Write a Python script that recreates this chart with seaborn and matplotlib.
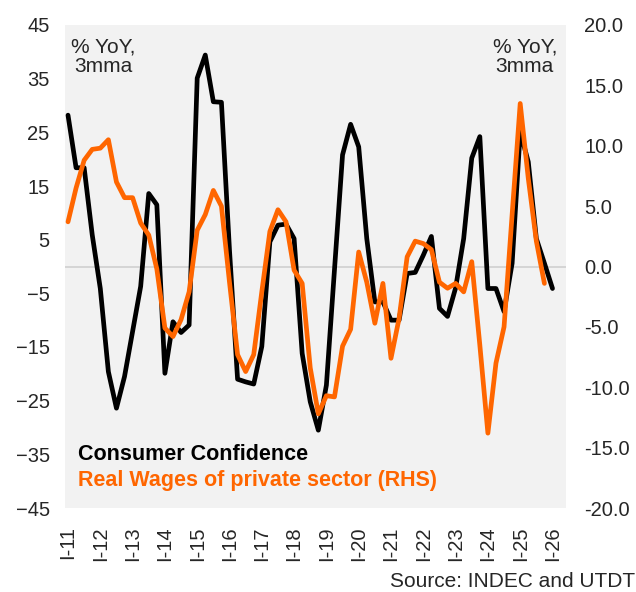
import numpy as np
import pandas as pd
import matplotlib
matplotlib.use("Agg")
import matplotlib.pyplot as plt
import seaborn as sns

# Quarterly data, 2011Q1 onwards
consumer_confidence = [
    28.2, 18.4, 18.4, 5.9, -4.1, -19.6, -26.4, -20.5, -12.1, -3.7, 13.6, 11.5,
    -19.9, -10.3, -12.3, -10.9, 35.1, 39.4, 30.7, 30.6, 3.0, -21.0, -21.5, -21.9,
    -14.9, 4.6, 7.7, 7.9, 5.2, -16.2, -25.2, -30.5, -22.1, -0.6, 20.8, 26.5,
    22.3, 5.2, -6.6, -6.6, -10.0, -10.0, -1.3, -1.1, 2.1, 5.6, -7.8, -9.3,
    -4.0, 5.2, 20.2, 24.2, -4.1, -4.1, -8.4, 0.6, 25.1, 19.5, 5.2, 0.6, -4.1,
]
real_wages = [
    3.7, 6.5, 8.8, 9.7, 9.8, 10.5, 7.0, 5.7, 5.7, 3.6, 2.6, -0.2,
    -5.1, -5.8, -4.4, -2.1, 3.0, 4.3, 6.3, 5.0, -1.3, -7.3, -8.7, -7.3,
    -2.1, 2.9, 4.7, 3.7, -0.3, -1.4, -8.4, -12.2, -10.7, -10.8, -6.6, -5.2,
    1.2, -1.3, -4.7, -1.4, -7.6, -4.3, 0.8, 2.1, 1.9, 1.4, -1.3, -1.8,
    -1.4, -2.1, 0.4, -6.5, -13.8, -8.0, -5.0, 4.3, 13.5, 7.3, 2.1, -1.4,
]
tick_years = list(range(2011, 2027))
tick_labels = [f"I-{y % 100:02d}" for y in tick_years]

t_cc = [2011 + i / 4 for i in range(len(consumer_confidence))]
t_rw = [2011 + i / 4 for i in range(len(real_wages))]
df_cc = pd.DataFrame({"t": t_cc, "v": consumer_confidence})
df_rw = pd.DataFrame({"t": t_rw, "v": real_wages})

sns.set_style("white")
plt.rcParams["font.family"] = ["Liberation Sans", "DejaVu Sans"]

fig = plt.figure(figsize=(6.36, 5.92), dpi=100)
ax = fig.add_axes([65 / 636, 1 - 508 / 592, (566 - 65) / 636, (508 - 25) / 592])
ax.set_facecolor("#F2F2F2")
ax.axhline(0, color="#D0D0D0", lw=1.2, zorder=1)

sns.lineplot(data=df_cc, x="t", y="v", ax=ax, color="black", lw=3.4, zorder=3)
ax2 = ax.twinx()
sns.lineplot(data=df_rw, x="t", y="v", ax=ax2, color="#FF6600", lw=3.4, zorder=3)

ax.set_xlim(2011 - 3 / 32.3, 2011 + (566 - 68) / 32.3)
ax.set_ylim(-45, 45)
ax2.set_ylim(-20, 20)
ax.set_yticks(range(-45, 46, 10))
ax2.set_yticks(np.arange(-20, 20.1, 5))
ax2.set_yticklabels([f"{v:.1f}" for v in np.arange(-20, 20.1, 5)])
ax.set_xticks(tick_years)
ax.set_xticklabels(tick_labels, rotation=90)
for a in (ax, ax2):
    a.set_xlabel("")
    a.set_ylabel("")
    for s in a.spines.values():
        s.set_visible(False)
ax.tick_params(axis="y", length=0, labelsize=14.5, pad=11)
ax2.tick_params(axis="y", length=0, labelsize=14.5, pad=13)
ax.tick_params(axis="x", length=0, labelsize=14.5, pad=13)

ax.text(0.012, 0.975, "% YoY,\n3mma", transform=ax.transAxes, ha="left", va="top",
        fontsize=15, linespacing=1.05, multialignment="center")
ax.text(0.982, 0.975, "% YoY,\n3mma", transform=ax.transAxes, ha="right", va="top",
        fontsize=15, linespacing=1.05, multialignment="center")
ax.text(0.026, 0.11, "Consumer Confidence", transform=ax.transAxes, ha="left",
        va="center", fontsize=15.5, fontweight="bold", color="black")
ax.text(0.026, 0.056, "Real Wages of private sector (RHS)", transform=ax.transAxes,
        ha="left", va="center", fontsize=15.5, fontweight="bold", color="#FF6600")
fig.text(0.998, 0.002, "Source: INDEC and UTDT", ha="right", va="bottom", fontsize=15)

fig.savefig("out.png", dpi=100)
